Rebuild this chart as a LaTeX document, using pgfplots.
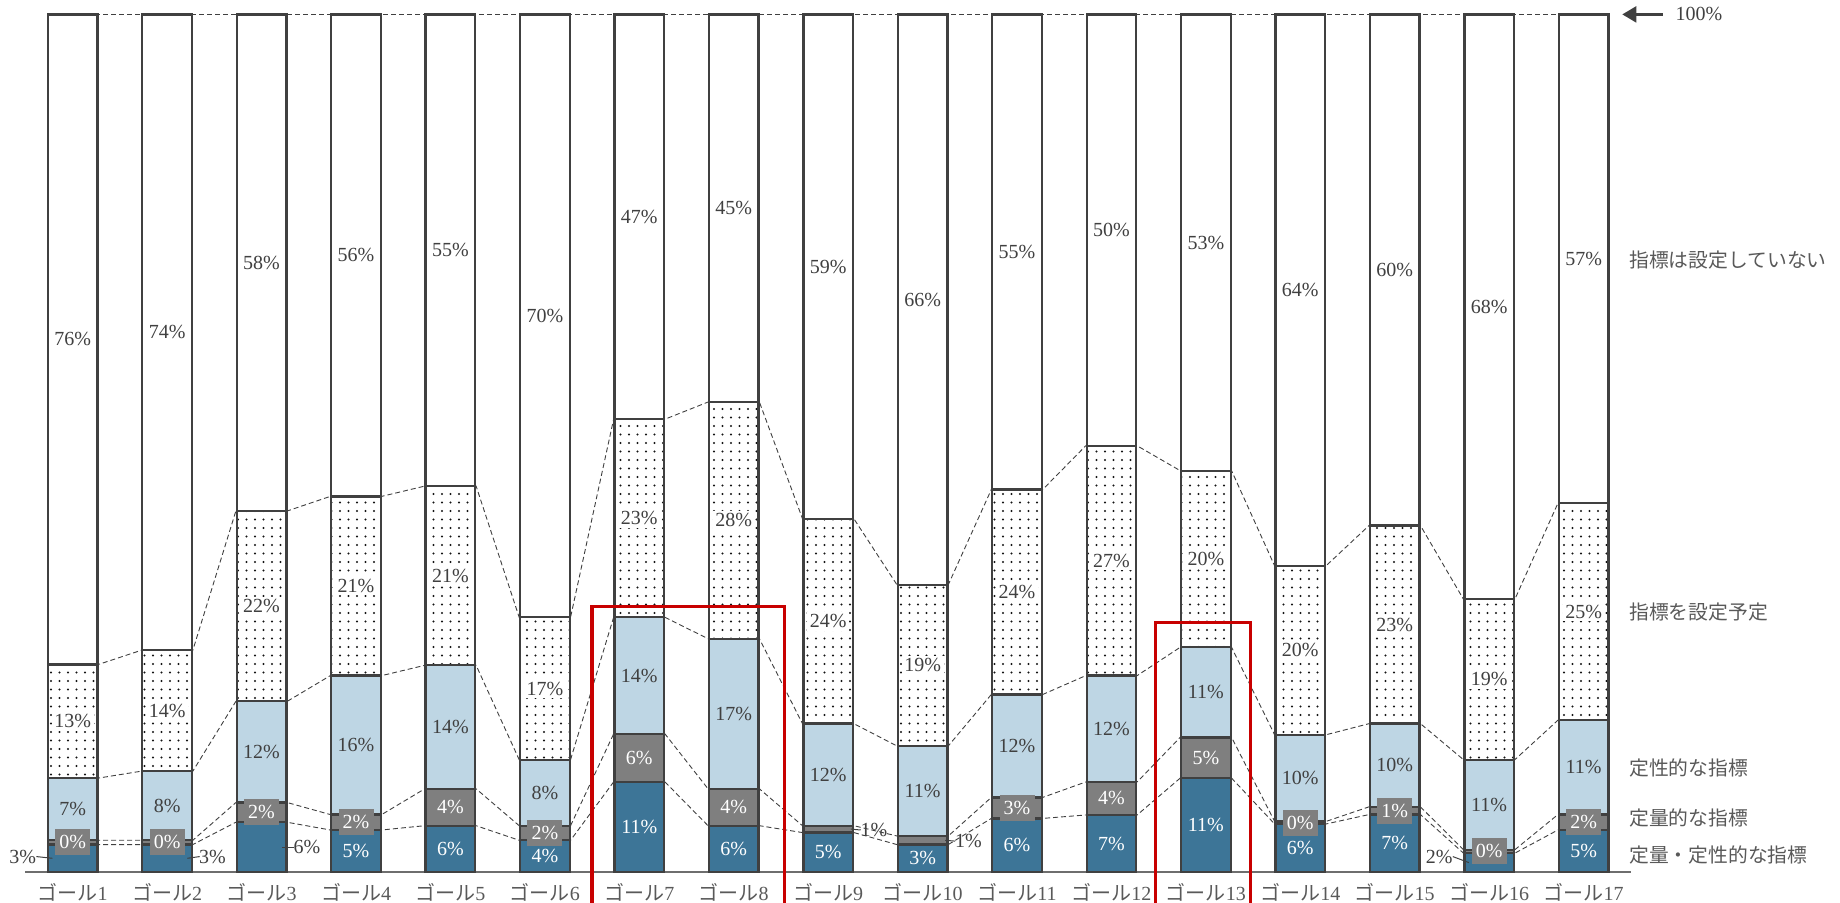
\documentclass[border=0pt]{standalone}
\usepackage{fontspec}
\setmainfont{Liberation Serif}
\newfontfamily\cjk{Noto Sans CJK JP}
\usepackage{pgfplots}
\pgfplotsset{compat=1.18}
\usepackage{pgfplotstable}
\usetikzlibrary{patterns.meta,arrows.meta}

\definecolor{cDark}{RGB}{61,117,151}
\definecolor{cGray}{RGB}{127,127,127}
\definecolor{cLight}{RGB}{190,214,228}
\definecolor{cBorder}{RGB}{64,64,64}
\definecolor{cText}{RGB}{64,64,64}
\definecolor{cTick}{RGB}{89,89,89}
\definecolor{cAxis}{RGB}{110,110,110}
\definecolor{cDots}{RGB}{20,20,20}
\definecolor{cRed}{RGB}{200,0,0}

\pgfplotstableread{
x s1 s2 s3 s4 s5 l1 l2 l3 l4 l5 m1 m2
1 3.2 0.5 7.25 13.25 75.8 3 0 7 13 76 1 1
2 3.2 0.5 8.06 14.1 74.14 3 0 8 14 74 2 1
3 5.8 2.3 11.8 22.2 57.9 6 2 12 22 58 2 1
4 4.9 1.8 16.2 20.9 56.2 5 2 16 21 56 0 1
5 5.4 4.3 14.4 20.9 55.0 6 4 14 21 55 0 0
6 3.7 1.7 7.7 16.6 70.3 4 2 8 17 70 0 1
7 10.5 5.6 13.6 23.1 47.2 11 6 14 23 47 0 0
8 5.4 4.3 17.5 27.6 45.2 6 4 17 28 45 0 0
9 4.6 0.8 11.9 23.9 58.8 5 1 12 24 59 0 2
10 3.2 1.0 10.5 18.8 66.5 3 1 11 19 66 0 2
11 6.25 2.45 12.0 23.9 55.4 6 3 12 24 55 0 1
12 6.65 3.85 12.4 26.8 50.3 7 4 12 27 50 0 0
13 10.95 4.75 10.5 20.6 53.2 11 5 11 20 53 0 0
14 5.6 0.3 10.1 19.7 64.3 6 0 10 20 64 0 1
15 6.7 0.9 9.7 23.1 59.6 7 1 10 23 60 0 1
16 2.2 0.4 10.5 18.7 68.2 2 0 11 19 68 1 1
17 4.9 1.8 11.0 25.3 57.0 5 2 11 25 57 0 1
}\data

\tikzset{
  num/.style={font=\fontsize{10}{12}\selectfont, inner sep=0.5pt},
  lblW/.style={num, text=white},
  lblD/.style={num, text=cText},
  lblP/.style={num, text=cText, fill=white, inner sep=1.3pt},
  lblBox/.style={num, text=white, fill=cGray, minimum width=17.5pt, minimum height=13pt, inner sep=0pt},
  leader/.style={draw=cText, line width=0.5pt},
  conn/.style={draw=cBorder, line width=0.45pt, dash pattern=on 2.5pt off 1.5pt},
  cjklbl/.style={font={\cjk\fontsize{9.9}{12}\selectfont}, text=cTick, inner sep=0pt, anchor=west},
}

\newcommand\goal[1]{{\cjk ゴール}#1}
\newcommand\addcmd[1]{\xdef\labelcmds{\unexpanded\expandafter{\labelcmds}#1}}

\gdef\cumA{}\gdef\cumB{}\gdef\cumC{}\gdef\cumD{}\gdef\cumE{}
\gdef\labelcmds{}
\foreach \rr in {0,...,16}{%
  \pgfplotstablegetelem{\rr}{s1}\of\data\pgfmathsetmacro\vA{\pgfplotsretval}%
  \pgfplotstablegetelem{\rr}{s2}\of\data\pgfmathsetmacro\vB{\vA+\pgfplotsretval}%
  \pgfplotstablegetelem{\rr}{s3}\of\data\pgfmathsetmacro\vC{\vB+\pgfplotsretval}%
  \pgfplotstablegetelem{\rr}{s4}\of\data\pgfmathsetmacro\vD{\vC+\pgfplotsretval}%
  \pgfplotstablegetelem{\rr}{l1}\of\data\let\tA\pgfplotsretval
  \pgfplotstablegetelem{\rr}{l2}\of\data\let\tB\pgfplotsretval
  \pgfplotstablegetelem{\rr}{l3}\of\data\let\tC\pgfplotsretval
  \pgfplotstablegetelem{\rr}{l4}\of\data\let\tD\pgfplotsretval
  \pgfplotstablegetelem{\rr}{l5}\of\data\let\tE\pgfplotsretval
  \pgfplotstablegetelem{\rr}{m1}\of\data\let\mA\pgfplotsretval
  \pgfplotstablegetelem{\rr}{m2}\of\data\let\mB\pgfplotsretval
  \pgfmathsetmacro\xc{\rr+1}%
  \pgfmathsetmacro\xL{\rr+1-0.272}%
  \pgfmathsetmacro\xR{\rr+1+0.272}%
  \xdef\cumA{\cumA(\xL,\vA)(\xR,\vA)}%
  \xdef\cumB{\cumB(\xL,\vB)(\xR,\vB)}%
  \xdef\cumC{\cumC(\xL,\vC)(\xR,\vC)}%
  \xdef\cumD{\cumD(\xL,\vD)(\xR,\vD)}%
  \xdef\cumE{\cumE(\xL,100)(\xR,100)}%
  \pgfmathsetmacro\yA{\vA/2}%
  \pgfmathsetmacro\yB{(\vA+\vB)/2}%
  \pgfmathsetmacro\yC{(\vB+\vC)/2}%
  \pgfmathsetmacro\yD{(\vC+\vD)/2}%
  \pgfmathsetmacro\yE{(\vD+100)/2}%
  % segment 1
  \ifcase\mA\relax
    \addcmd{\noexpand\node[lblW] at (axis cs:\xc,\yA) {\tA\noexpand\%};}%
  \or
    \pgfmathsetmacro\yl{max(\yA,1.8)}%
    \pgfmathsetmacro\xl{\xc-0.53}\pgfmathsetmacro\xa{\xc-0.385}\pgfmathsetmacro\xb{\xc-0.215}%
    \addcmd{\noexpand\draw[leader] (axis cs:\xa,\yl) -- (axis cs:\xb,\yA); \noexpand\node[lblD] at (axis cs:\xl,\yl) {\tA\noexpand\%};}%
  \or
    \pgfmathsetmacro\yl{max(\yA,1.8)}%
    \pgfmathsetmacro\xl{\xc+0.48}\pgfmathsetmacro\xa{\xc+0.215}\pgfmathsetmacro\xb{\xc+0.345}%
    \addcmd{\noexpand\draw[leader] (axis cs:\xa,\yA) -- (axis cs:\xb,\yl); \noexpand\node[lblD] at (axis cs:\xl,\yl) {\tA\noexpand\%};}%
  \fi
  % segment 2
  \ifcase\mB\relax
    \addcmd{\noexpand\node[lblW] at (axis cs:\xc,\yB) {\tB\noexpand\%};}%
  \or
    \addcmd{\noexpand\node[lblBox] at (axis cs:\xc,\yB) {\tB\noexpand\%};}%
  \or
    \pgfmathsetmacro\yl{\yB-0.1}%
    \pgfmathsetmacro\xl{\xc+0.485}\pgfmathsetmacro\xa{\xc+0.24}\pgfmathsetmacro\xb{\xc+0.345}%
    \addcmd{\noexpand\draw[leader] (axis cs:\xa,\yB) -- (axis cs:\xb,\yl); \noexpand\node[lblD] at (axis cs:\xl,\yl) {\tB\noexpand\%};}%
  \fi
  \addcmd{\noexpand\node[lblD] at (axis cs:\xc,\yC) {\tC\noexpand\%};}%
  \addcmd{\noexpand\node[lblP] at (axis cs:\xc,\yD) {\tD\noexpand\%};}%
  \addcmd{\noexpand\node[lblD] at (axis cs:\xc,\yE) {\tE\noexpand\%};}%
}

\pgfplotsset{
  common/.style={
    at={(0,0)}, anchor=south west, scale only axis,
    width=802.65pt, height=428.8pt,
    xmin=0.5, xmax=17.5, ymin=0, ymax=100, clip=false,
  },
}

\begin{document}
\begin{tikzpicture}
% connectors (behind bars)
\begin{axis}[common, hide axis]
\edef\tmp{\noexpand\addplot[conn] coordinates {\cumA};}\tmp
\edef\tmp{\noexpand\addplot[conn] coordinates {\cumB};}\tmp
\edef\tmp{\noexpand\addplot[conn] coordinates {\cumC};}\tmp
\edef\tmp{\noexpand\addplot[conn] coordinates {\cumD};}\tmp
\edef\tmp{\noexpand\addplot[conn] coordinates {\cumE};}\tmp
\end{axis}
% bars
\begin{axis}[common,
  ybar stacked, bar width=24.8pt,
  axis y line=none, axis x line*=bottom,
  x axis line style={-, draw=cAxis, line width=0.8pt},
  ytick=\empty,
  xtick={1,...,17},
  xticklabels={\goal{1},\goal{2},\goal{3},\goal{4},\goal{5},\goal{6},\goal{7},\goal{8},\goal{9},\goal{10},\goal{11},\goal{12},\goal{13},\goal{14},\goal{15},\goal{16},\goal{17}},
  major tick length=0pt,
  xticklabel style={font=\fontsize{10}{12}\selectfont, text=cTick, yshift=-2pt},
]
\addplot[fill=cDark, draw=cBorder, line width=1.15pt] table[x=x, y=s1]{\data};
\addplot[fill=cGray, draw=cBorder, line width=1.15pt] table[x=x, y=s2]{\data};
\addplot[fill=cLight, draw=cBorder, line width=1.15pt] table[x=x, y=s3]{\data};
\addplot[fill=white, draw=cBorder, line width=1.15pt, postaction={pattern={Dots[distance=4.25pt,radius=0.55pt]},pattern color=cDots}] table[x=x, y=s4]{\data};
\addplot[fill=white, draw=cBorder, line width=1.15pt] table[x=x, y=s5]{\data};
\end{axis}
% labels and annotations (on top)
\begin{axis}[common, hide axis]
\labelcmds
\draw[cRed, line width=1.6pt, line join=miter] (axis cs:6.5,-6) |- (axis cs:8.54,31.0) -- (axis cs:8.54,-6);
\draw[cRed, line width=1.6pt, line join=miter] (axis cs:12.47,-6) |- (axis cs:13.475,29.1) -- (axis cs:13.475,-6);
\draw[cText, line width=1.2pt, -{Triangle[length=7pt,width=8pt]}] (axis cs:17.84,100) -- (axis cs:17.41,100);
\node[num, text=cText, anchor=west] at (axis cs:17.96,100) {100\%};
\node[cjklbl] at (axis cs:17.48,71.35) {指標は設定していない};
\node[cjklbl] at (axis cs:17.48,30.26) {指標を設定予定};
\node[cjklbl] at (axis cs:17.48,12.1) {定性的な指標};
\node[cjklbl] at (axis cs:17.48,6.25) {定量的な指標};
\node[cjklbl] at (axis cs:17.48,2.0) {定量・定性的な指標};
\end{axis}
\pgfresetboundingbox
\useasboundingbox (-12.75pt,-15pt) rectangle (907.25pt,436pt);
\end{tikzpicture}
\end{document}
